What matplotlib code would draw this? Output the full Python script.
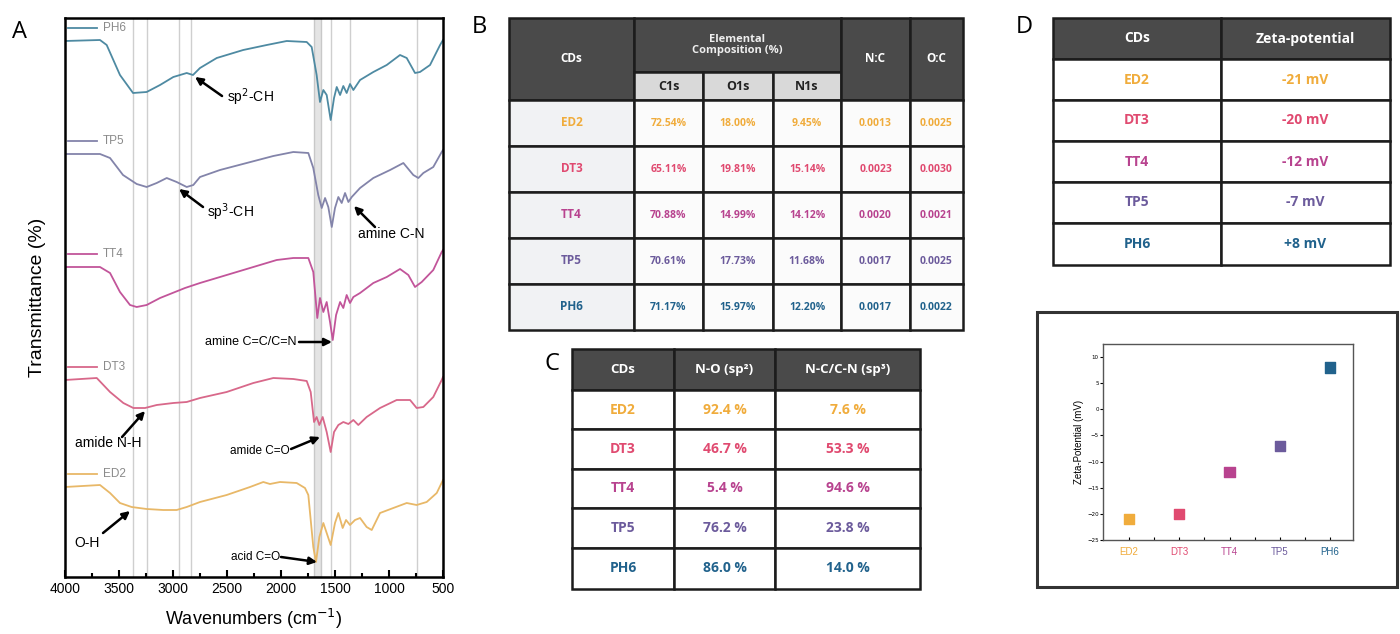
import matplotlib
matplotlib.use("Agg")
import matplotlib.pyplot as plt
from matplotlib.patches import Rectangle

W, H = 1400, 634

samples = ['ED2', 'DT3', 'TT4', 'TP5', 'PH6']
sample_colors = ['#f0ac3c', '#e04a70', '#b8438f', '#6c5b9c', '#21628c']
line_colors = ['#e8b868', '#d8688a', '#c2559a', '#8384aa', '#4e8aa2']

# FTIR spectra (stacked, arbitrary transmittance units)
ed2_wn = [4000, 3676, 3583, 3491, 3383, 3244, 3090, 2966, 2873, 2750, 2503, 2287, 2164, 2102,
          2009, 1855, 1778, 1747, 1701, 1676, 1645, 1608, 1577, 1540, 1500, 1469, 1429, 1398,
          1361, 1315, 1268, 1207, 1160, 1083, 960, 836, 744, 651, 558, 500]
ed2_t = [90, 92, 84, 74, 70, 68, 67, 67, 70, 75, 82, 90, 95, 93,
         95, 94, 89, 82, 30, 15, 40, 54, 44, 32, 54, 64, 49, 57,
         52, 57, 59, 50, 47, 64, 69, 74, 72, 75, 84, 97]

dt3_wn = [4000, 3706, 3583, 3460, 3367, 3259, 3151, 2997, 2873, 2750, 2503, 2256, 2071, 1886,
          1762, 1725, 1694, 1670, 1645, 1614, 1577, 1540, 1509, 1469, 1423, 1376, 1330, 1284,
          1207, 1083, 929, 805, 744, 682, 590, 512, 500]
dt3_t = [197, 199, 185, 174, 169, 169, 172, 174, 175, 179, 185, 194, 199, 198,
         196, 185, 155, 160, 152, 160, 145, 125, 145, 152, 155, 153, 157, 152,
         160, 169, 177, 177, 169, 170, 180, 197, 200]

tt4_wn = [4000, 3676, 3583, 3491, 3398, 3336, 3244, 3120, 2935, 2889, 2750, 2503, 2256, 2040,
          1886, 1747, 1701, 1664, 1639, 1608, 1577, 1546, 1521, 1490, 1453, 1423, 1392, 1361,
          1330, 1268, 1145, 1021, 898, 821, 759, 697, 590, 512, 500]
tt4_t = [310, 310, 304, 285, 272, 270, 272, 279, 287, 289, 294, 302, 310, 317,
         319, 319, 305, 259, 279, 265, 275, 255, 237, 262, 275, 269, 282, 274,
         280, 284, 294, 300, 308, 302, 290, 295, 307, 325, 327]

tp5_wn = [4000, 3676, 3583, 3463, 3336, 3244, 3151, 3058, 2966, 2873, 2812, 2750, 2565, 2318,
          2071, 1886, 1747, 1701, 1655, 1623, 1592, 1562, 1530, 1500, 1469, 1438, 1407, 1376,
          1345, 1268, 1145, 990, 867, 775, 728, 682, 590, 512, 500]
tp5_t = [423, 423, 419, 402, 393, 390, 394, 399, 395, 390, 392, 400, 407, 414,
         421, 425, 424, 409, 382, 369, 379, 370, 350, 369, 380, 374, 384, 375,
         380, 389, 399, 407, 414, 402, 399, 404, 410, 425, 427]

ph6_wn = [4000, 3676, 3614, 3491, 3370, 3244, 3120, 2997, 2873, 2815, 2750, 2595, 2350, 2132,
          1947, 1762, 1716, 1670, 1639, 1608, 1577, 1540, 1509, 1484, 1453, 1423, 1392, 1361,
          1330, 1268, 1145, 1021, 898, 836, 759, 713, 620, 527, 500]
ph6_t = [536, 537, 532, 502, 484, 485, 492, 500, 504, 502, 509, 519, 527, 532,
         536, 535, 530, 502, 475, 487, 482, 457, 479, 490, 482, 491, 484, 493,
         487, 497, 505, 512, 522, 519, 504, 505, 512, 532, 537]

spectra = [(ed2_wn, ed2_t), (dt3_wn, dt3_t), (tt4_wn, tt4_t), (tp5_wn, tp5_t), (ph6_wn, ph6_t)]
band_lines = [3373, 3240, 2942, 2835, 1540, 1362, 745]
band_fill = (1694, 1634)

# XPS / bonding / zeta data
c1s = [72.54, 65.11, 70.88, 70.61, 71.17]
o1s = [18.00, 19.81, 14.99, 17.73, 15.97]
n1s = [9.45, 15.14, 14.12, 11.68, 12.20]
n_to_c = [0.0013, 0.0023, 0.0020, 0.0017, 0.0017]
o_to_c = [0.0025, 0.0030, 0.0021, 0.0025, 0.0022]
no_sp2 = [92.4, 46.7, 5.4, 76.2, 86.0]
nc_sp3 = [7.6, 53.3, 94.6, 23.8, 14.0]
zeta = [-21, -20, -12, -7, 8]


def box(l, t, r, b):
    return [l / W, 1 - b / H, (r - l) / W, (b - t) / H]


fig = plt.figure(figsize=(W / 100, H / 100), dpi=100)

# ---- A: FTIR ----
ax = fig.add_axes(box(65, 18, 443, 577))
for x in band_lines:
    ax.axvline(x, color='#cfcfcf', lw=1.0, zorder=0)
ax.axvspan(*band_fill, facecolor='#e4e4e4', edgecolor='#c8c8c8', lw=1.0, zorder=0)
for (wn, t), name, c in zip(spectra, samples, line_colors):
    ax.plot(wn, t, color=c, lw=1.3)
    y0 = t[0] + 13
    ax.plot([3975, 3705], [y0, y0], color=c, lw=1.3)
    ax.text(3650, y0, name, color='#8a8a8a', fontsize=8.5, va='center',
            family='Liberation Sans')

arrows = [((2546, 481), (2796, 500)), ((2722, 370), (2944, 388)), ((1130, 350), (1324, 371)),
          ((1833, 235), (1528, 235)), ((3472, 140), (3259, 166)), ((1907, 128), (1639, 140)),
          ((3648, 44), (3398, 66)), ((2000, 20), (1667, 15))]
for tail, head in arrows:
    ax.annotate('', xy=head, xytext=tail,
                arrowprops=dict(arrowstyle='-|>', color='k', lw=1.8, mutation_scale=11,
                                shrinkA=0, shrinkB=0))
notes = [(2500, 480, 'sp$^2$-CH', 'left', 10), (2685, 365, 'sp$^3$-CH', 'left', 10),
         (1287, 343, 'amine C-N', 'left', 10), (1852, 235, 'amine C=C/C=N', 'right', 9),
         (3910, 134, 'amide N-H', 'left', 10), (1917, 126, 'amide C=O', 'right', 8.5),
         (3910, 34, 'O-H', 'left', 10), (2009, 20, 'acid C=O', 'right', 8.5)]
for x, y, s, ha, fs in notes:
    ax.text(x, y, s, ha=ha, va='center', fontsize=fs, family='Liberation Sans')

ax.set_xlim(4000, 500)
ax.set_ylim(0, 559)
ax.set_xticks(range(4000, 499, -500))
ax.set_xticks(range(3750, 500, -500), minor=True)
ax.set_yticks([])
ax.tick_params(axis='x', which='both', direction='in', width=1.5, labelsize=10)
ax.tick_params(axis='x', which='major', length=5)
ax.tick_params(axis='x', which='minor', length=3)
for lab in ax.get_xticklabels():
    lab.set_family('Liberation Sans')
for sp in ax.spines.values():
    sp.set_linewidth(1.8)
ax.set_xlabel('Wavenumbers (cm$^{-1}$)', fontsize=13, family='Liberation Sans', labelpad=8)
ax.set_ylabel('Transmittance (%)', fontsize=14, family='Liberation Sans', labelpad=14)

# ---- overlay for tables and panel letters ----
ov = fig.add_axes([0, 0, 1, 1])
ov.set_xlim(0, W)
ov.set_ylim(H, 0)
ov.axis('off')
ov.patch.set_alpha(0)

TF = 'Open Sans'
DARK = '#4a4a4a'
EDGE = '#1c1c1c'


def cell(x0, y0, x1, y1, fc, text='', color='k', size=8.5, lw=1.8):
    ov.add_patch(Rectangle((x0, y0), x1 - x0, y1 - y0, facecolor=fc, edgecolor=EDGE, lw=lw))
    if text:
        ov.text((x0 + x1) / 2, (y0 + y1) / 2, text, ha='center', va='center', color=color,
                fontsize=size, fontweight='bold', family=TF, linespacing=1.1)


for s, x, y in [('A', 12, 32), ('B', 472, 27), ('C', 545, 364), ('D', 1016, 27)]:
    ov.text(x, y, s, fontsize=17, va='center', family=TF)

# B: elemental composition
bx = [509, 634, 703, 773, 841, 910, 963]
by = [100, 146, 192, 238, 284, 330]
cell(bx[0], 18, bx[1], 100, DARK, 'CDs', 'white', 8.5)
cell(bx[1], 18, bx[4], 72, DARK, 'Elemental\nComposition (%)', '#eeeeee', 8)
for i, s in enumerate(['C1s', 'O1s', 'N1s']):
    cell(bx[1 + i], 72, bx[2 + i], 100, '#d9d9d9', s, '#222222', 9)
cell(bx[4], 18, bx[5], 100, DARK, 'N:C', 'white', 8.5)
cell(bx[5], 18, bx[6], 100, DARK, 'O:C', 'white', 8.5)
for r in range(5):
    col = sample_colors[r]
    vals = [f'{c1s[r]:.2f}%', f'{o1s[r]:.2f}%', f'{n1s[r]:.2f}%',
            f'{n_to_c[r]:.4f}', f'{o_to_c[r]:.4f}']
    cell(bx[0], by[r], bx[1], by[r + 1], '#f1f2f4', samples[r], col, 8.5)
    for j, v in enumerate(vals):
        cell(bx[1 + j], by[r], bx[2 + j], by[r + 1], '#fbfbfb', v, col, 7.5)

# C: nitrogen bonding
cx = [572, 674, 775, 920]
cy = [349, 390, 429, 469, 508, 548, 589]
for j, s in enumerate(['CDs', 'N-O (sp²)', 'N-C/C-N (sp³)']):
    cell(cx[j], cy[0], cx[j + 1], cy[1], DARK, s, 'white', 9.5)
for r in range(5):
    col = sample_colors[r]
    for j, v in enumerate([samples[r], f'{no_sp2[r]:.1f} %', f'{nc_sp3[r]:.1f} %']):
        cell(cx[j], cy[r + 1], cx[j + 1], cy[r + 2], 'white', v, col, 10)

# D: zeta potential
dx = [1053, 1221, 1390]
dy = [18, 59, 100, 141, 182, 223, 265]
for j, s in enumerate(['CDs', 'Zeta-potential']):
    cell(dx[j], dy[0], dx[j + 1], dy[1], DARK, s, 'white', 10)
for r in range(5):
    col = sample_colors[r]
    for j, v in enumerate([samples[r], f'{zeta[r]:+d} mV' if zeta[r] > 0 else f'{zeta[r]:d} mV']):
        cell(dx[j], dy[r + 1], dx[j + 1], dy[r + 2], 'white', v, col, 10)

# framed zeta scatter
ov.add_patch(Rectangle((1037, 312), 360, 275, facecolor='none', edgecolor='#333333', lw=2.2))
sx = fig.add_axes(box(1103, 344, 1353, 540))
sx.scatter(range(len(samples)), zeta, marker='s', s=55, c=sample_colors, zorder=3)
sx.set_xlim(-0.52, 4.46)
sx.set_ylim(-25, 12.5)
sx.set_xticks(range(len(samples)))
sx.set_xticklabels(samples, fontsize=7, family='Liberation Sans')
for lab, c in zip(sx.get_xticklabels(), sample_colors):
    lab.set_color(c)
sx.set_xticks([0.5, 1.5, 2.5, 3.5], minor=True)
sx.set_yticks(range(-25, 11, 5))
sx.tick_params(axis='y', labelsize=4, length=2, width=0.8, pad=1)
sx.tick_params(axis='x', which='both', direction='in', length=2, width=0.8, pad=5)
for sp in sx.spines.values():
    sp.set_color('#555555')
    sp.set_linewidth(1.0)
sx.set_ylabel('Zeta-Potential (mV)', fontsize=7, family='Liberation Sans', labelpad=2)

fig.savefig('out.png', dpi=100)
